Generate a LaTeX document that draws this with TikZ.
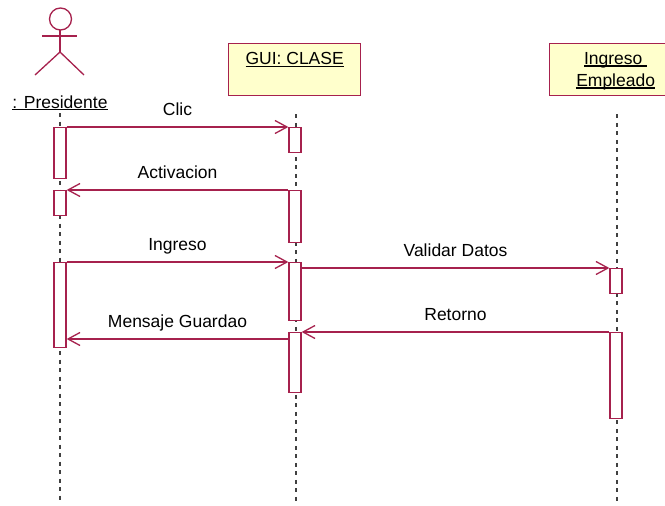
\documentclass[tikz,border=0pt]{standalone}
\usepackage{fontspec}
\setmainfont{Liberation Sans}
\usetikzlibrary{arrows.meta,positioning}
\definecolor{umlRed}{RGB}{166,33,77}
\definecolor{umlYellow}{RGB}{255,255,204}
\colorlet{lifeColor}{black!75}
\tikzset{>={Straight Barb[length=12pt,width=13pt]}}
\newcommand{\ultext}[1]{\setbox0=\hbox{#1}\rlap{\rule[-2pt]{\wd0}{1.2pt}}\box0}

\begin{document}
\begin{tikzpicture}[x=1pt,y=-1pt,
    font=\fontsize{17.5}{22}\selectfont,
    head/.style={draw=umlRed,fill=umlYellow,line width=1.3pt,minimum width=132pt,
      minimum height=52pt,inner sep=0pt,align=center,anchor=north west},
    act/.style={draw=umlRed,fill=white,line width=1.3pt,minimum width=12pt,inner sep=0pt,anchor=north},
    life/.style={lifeColor,line width=1.8pt,dash pattern=on 4pt off 4.5pt},
    msg/.style={umlRed,line width=1.3pt,->},
    lbl/.style={black,anchor=base,yshift=12pt}]
  \useasboundingbox (0,0) rectangle (665,506);
  % actor
  \draw[umlRed,line width=1.3pt] (60.5,19) circle [radius=11];
  \draw[umlRed,line width=1.3pt] (42,36) -- (77,36) (60,30) -- (60,52);
  \draw[umlRed,line width=1.3pt] (35,75) -- (60,52) -- (84,75);
  \node (pres) [anchor=base] at (60,108) {\ultext{: Presidente}};
  % object heads
  \node[head] (gui) at (228,43) {\ultext{GUI: CLASE}\\ \mbox{}};
  \node[head] (emp) at (549,43) {\ultext{Ingreso\ }\\ \smash{\ultext{Empleado}}};
  % lifelines
  \draw[life] (60,113) -- (60,502);
  \draw[life] ([yshift=-18pt]gui.south) ++(1,0) -- ++(0,389);
  \draw[life] ([yshift=-18pt]emp.south) ++(1,0) -- ++(0,389);
  % activations
  \node[act,minimum height=51pt] (pa1) at (60,127) {};
  \node[act,minimum height=25pt] (pa2) at (60,190) {};
  \node[act,minimum height=85pt] (pa3) at (60,262) {};
  \node[act,minimum height=25pt] (ga1) at (295,127) {};
  \node[act,minimum height=52pt] (ga2) at (295,190) {};
  \node[act,minimum height=58pt] (ga3) at (295,262) {};
  \node[act,minimum height=60pt] (ga4) at (295,332) {};
  \node[act,minimum height=25pt] (ea1) at (616,268) {};
  \node[act,minimum height=86pt] (ea2) at (616,332) {};
  % messages
  \draw[msg] (pa1.north east) -- node[lbl] {Clic} (ga1.north west);
  \draw[msg] (ga2.north west) -- node[lbl] {Activacion} (pa2.north east);
  \draw[msg] (pa3.north east) -- node[lbl] {Ingreso} (ga3.north west);
  \draw[msg] (ga3.east |- ea1.north) -- node[lbl] {Validar Datos} (ea1.north west);
  \draw[msg] (ea2.north west) -- node[lbl] {Retorno} (ga4.north east);
  \draw[msg] ([yshift=-7pt]ga4.north west) coordinate (mg) -- node[lbl] {Mensaje Guardao} (pa3.east |- mg);
\end{tikzpicture}
\end{document}
